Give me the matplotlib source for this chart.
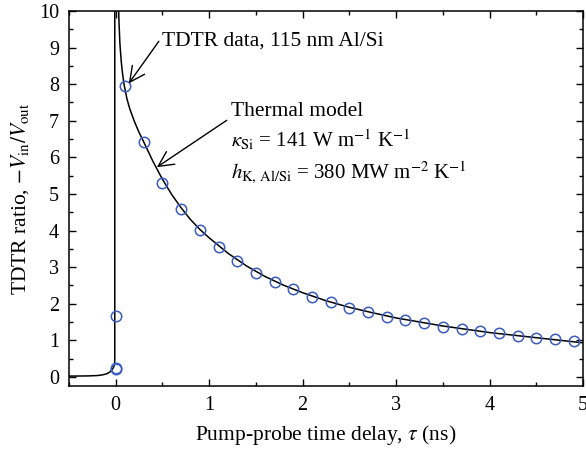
import matplotlib
matplotlib.use("Agg")
import matplotlib.pyplot as plt
from matplotlib.ticker import MultipleLocator

plt.rcParams["font.family"] = ["Liberation Serif", "DejaVu Serif"]
plt.rcParams["mathtext.fontset"] = "stix"

# TDTR data points (delay in ns, ratio)
data_t = [0.0, 0.0, 0.0, 0.1, 0.3, 0.5, 0.7, 0.9, 1.1, 1.3, 1.5, 1.7, 1.9, 2.1,
          2.3, 2.5, 2.7, 2.9, 3.1, 3.3, 3.5, 3.7, 3.9, 4.1, 4.3, 4.5, 4.7, 4.9]
data_r = [0.22, 0.25, 1.67, 7.94, 6.41, 5.29, 4.60, 4.01, 3.56, 3.16, 2.85, 2.60,
          2.39, 2.19, 2.04, 1.88, 1.76, 1.64, 1.55, 1.47, 1.37, 1.31, 1.24, 1.19,
          1.12, 1.07, 1.03, 0.99]

# thermal model curve
model_t = [-0.5, -0.3, -0.2, -0.15, -0.1, -0.07, -0.05, -0.03, -0.02, -0.012,
           -0.01, -0.01, 0.02, 0.03, 0.035, 0.045, 0.06, 0.075, 0.09, 0.12, 0.15,
           0.2, 0.25, 0.3, 0.4, 0.5, 0.6, 0.7, 0.8, 0.9, 1.0, 1.2, 1.4, 1.6, 1.8,
           2.0, 2.25, 2.5, 2.75, 3.0, 3.25, 3.5, 3.75, 4.0, 4.25, 4.5, 4.75, 5.0]
model_r = [0.02, 0.025, 0.035, 0.05, 0.08, 0.12, 0.16, 0.23, 0.28, 0.34,
           0.5, 12.0, 12.0, 10.2, 9.7, 9.1, 8.6, 8.25, 7.98, 7.6, 7.33,
           6.98, 6.68, 6.42, 5.88, 5.4, 4.98, 4.62, 4.3, 4.03, 3.8, 3.38, 3.03,
           2.74, 2.5, 2.3, 2.08, 1.9, 1.75, 1.61, 1.5, 1.39, 1.3, 1.21, 1.14,
           1.07, 1.0, 0.93]

fig = plt.figure(figsize=(5.86, 4.54), dpi=100)
ax = fig.add_axes([0.1177, 0.1498, 0.8773, 0.826])

ax.plot(model_t, model_r, color="black", lw=1.1)
ax.plot(data_t, data_r, "o", mfc="none", mec="#3a5cc0", mew=1.1, ms=7.5)

ax.set_xlim(-0.5, 5)
ax.set_ylim(-0.25, 10)
ax.xaxis.set_major_locator(MultipleLocator(1))
ax.xaxis.set_minor_locator(MultipleLocator(0.5))
ax.yaxis.set_major_locator(MultipleLocator(1))
ax.yaxis.set_minor_locator(MultipleLocator(0.5))
ax.tick_params(which="both", direction="in", top=True, right=True, labelsize=14.5)
ax.tick_params(which="major", length=5, width=1, pad=7)
ax.tick_params(which="minor", length=3, width=1)
for s in ax.spines.values():
    s.set_linewidth(1.1)

ax.set_xlabel(r"Pump-probe time delay, $\tau$ (ns)", fontsize=15.5, labelpad=6)
ax.set_ylabel(r"TDTR ratio, $-V_{\rm in}/V_{\rm out}$", fontsize=15.5, labelpad=6)

arrow = "->,head_length=0.7,head_width=0.35"
ax.annotate("TDTR data, 115 nm Al/Si", xy=(0.14, 8.02), xytext=(0.5, 9.18),
            fontsize=15.5, va="center", ha="left",
            arrowprops=dict(arrowstyle=arrow, color="black", lw=1,
                            shrinkA=1, shrinkB=0, relpos=(0, 0.75)))
ax.annotate("Thermal model", xy=(0.44, 5.73), xytext=(1.23, 7.24),
            fontsize=15.5, va="center", ha="left",
            arrowprops=dict(arrowstyle=arrow, color="black", lw=1,
                            shrinkA=1, shrinkB=0, relpos=(0, 0.2)))
ax.text(1.23, 6.47, r"$\kappa_{\rm Si}$ = 141 W m$^{-1}$ K$^{-1}$",
        fontsize=15, va="center", ha="left")
ax.text(1.23, 5.61, r"$h_{\rm K,\,Al/Si}$ = 380 MW m$^{-2}$ K$^{-1}$",
        fontsize=15, va="center", ha="left")

fig.savefig("out.png", dpi=100)
